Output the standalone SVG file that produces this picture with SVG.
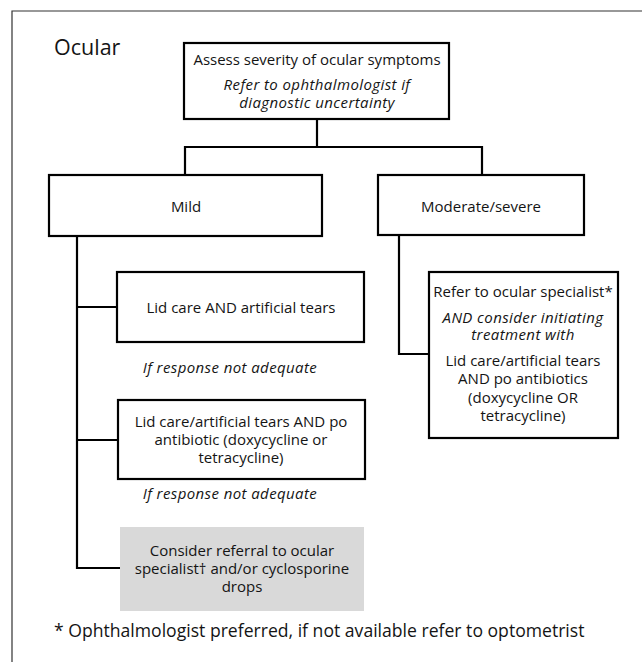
<svg xmlns="http://www.w3.org/2000/svg" width="642" height="662" viewBox="0 0 642 662">
  <style>
    .box { fill: #ffffff; stroke: #000000; stroke-width: 2.2; }
    .shade { fill: #d9d9d9; stroke: none; }
    .wire { fill: none; stroke: #000000; stroke-width: 2.2; stroke-linejoin: miter; }
    .frame { fill: none; stroke: #333333; stroke-width: 1.2; }
    text { font-family: "Open Sans", "Noto Sans", sans-serif; fill: #141414; text-anchor: middle; font-size: 15px; }
    .it { font-style: italic; letter-spacing: 0.4px; }
    .title { font-size: 21.5px; text-anchor: start; }
    .note { font-size: 17.6px; text-anchor: start; }
  </style>

  <!-- panel frame (open to the right and bottom) -->
  <path class="frame" d="M12 662 V11 H642"/>
  <text class="title" x="54" y="55">Ocular</text>

  <g id="connectors">
    <!-- assessment to severity split -->
    <path class="wire" d="M317 119 V147"/>
    <path class="wire" d="M185 175 V147 H482 V175"/>
    <!-- mild pathway spine -->
    <path class="wire" d="M77 236 V568 H120"/>
    <path class="wire" d="M77 307 H117"/>
    <path class="wire" d="M77 440 H118"/>
    <!-- moderate/severe pathway -->
    <path class="wire" d="M399 235 V354 H429"/>
  </g>

  <g id="assess">
    <rect class="box" x="184" y="43" width="265" height="76"/>
    <text x="317" y="65">Assess severity of ocular symptoms</text>
    <text class="it" x="317" y="90">Refer to ophthalmologist if</text>
    <text class="it" x="317" y="108">diagnostic uncertainty</text>
  </g>

  <g id="mild">
    <rect class="box" x="49" y="175" width="273" height="61"/>
    <text x="186" y="212">Mild</text>
  </g>

  <g id="moderate">
    <rect class="box" x="378" y="175" width="206" height="60"/>
    <text x="481" y="212">Moderate/severe</text>
  </g>

  <g id="lid-care">
    <rect class="box" x="117" y="272" width="247" height="70"/>
    <text x="241" y="313">Lid care AND artificial tears</text>
  </g>

  <g id="response-1">
    <text class="it" x="230" y="373">If response not adequate</text>
  </g>

  <g id="lid-care-antibiotic">
    <rect class="box" x="118" y="400" width="247" height="79"/>
    <text x="241" y="427">Lid care/artificial tears AND po</text>
    <text x="241" y="445">antibiotic (doxycycline or</text>
    <text x="241" y="463">tetracycline)</text>
  </g>

  <g id="response-2">
    <text class="it" x="230" y="499">If response not adequate</text>
  </g>

  <g id="referral">
    <rect class="shade" x="120" y="527" width="244" height="84"/>
    <text x="242" y="556">Consider referral to ocular</text>
    <text x="242" y="574">specialist† and/or cyclosporine</text>
    <text x="242" y="592">drops</text>
  </g>

  <g id="specialist">
    <rect class="box" x="429" y="272" width="189" height="166"/>
    <text x="523" y="297">Refer to ocular specialist*</text>
    <text class="it" x="523" y="323">AND consider initiating</text>
    <text class="it" x="523" y="340">treatment with</text>
    <text x="523" y="366">Lid care/artificial tears</text>
    <text x="523" y="384">AND po antibiotics</text>
    <text x="523" y="403">(doxycycline OR</text>
    <text x="523" y="421">tetracycline)</text>
  </g>

  <text class="note" x="54" y="637">* Ophthalmologist preferred, if not available refer to optometrist</text>
</svg>
